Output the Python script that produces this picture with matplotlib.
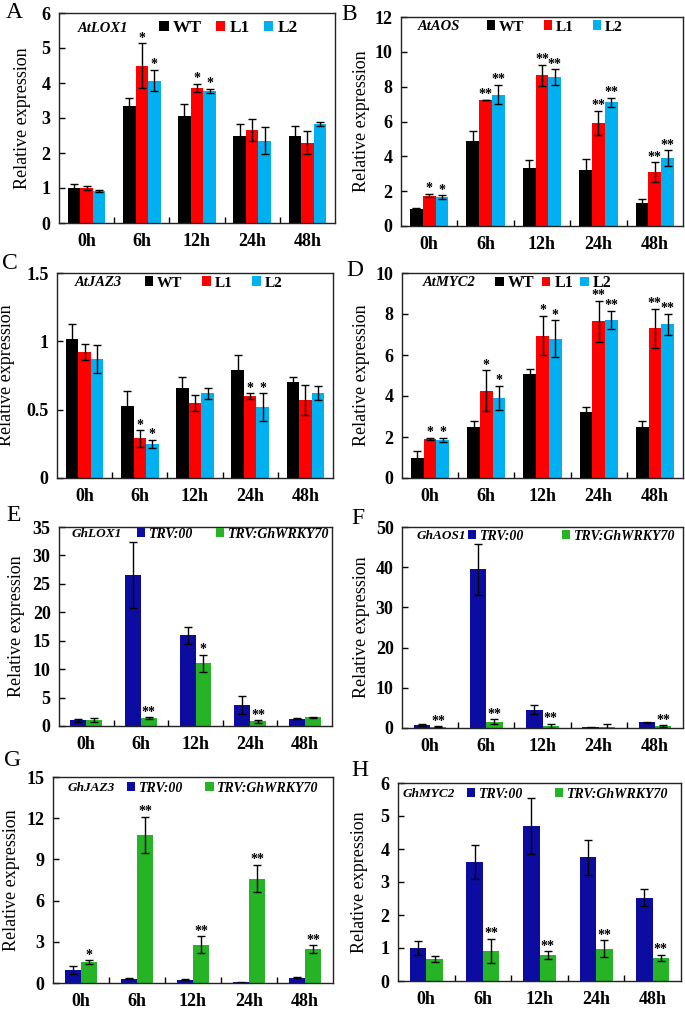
import matplotlib
matplotlib.use("Agg")
import matplotlib.pyplot as plt
from matplotlib.patches import Patch
from matplotlib.ticker import FuncFormatter, FixedLocator
import numpy as np

plt.rcParams['font.family'] = ['Liberation Serif', 'DejaVu Serif']

times = ["0h", "6h", "12h", "24h", "48h"]

# Panel A  AtLOX1
A_wt = [1.0, 3.33, 3.07, 2.5, 2.5]
A_l1 = [1.0, 4.5, 3.85, 2.65, 2.3]
A_l2 = [0.92, 4.07, 3.78, 2.35, 2.83]
A_wt_err = [0.12, 0.25, 0.32, 0.32, 0.28]
A_l1_err = [0.06, 0.63, 0.12, 0.32, 0.32]
A_l2_err = [0.03, 0.3, 0.06, 0.38, 0.05]
A_l1_sig = ["", "*", "*", "", ""]
A_l2_sig = ["", "*", "*", "", ""]

# Panel B  AtAOS
B_wt = [1.0, 4.9, 3.33, 3.2, 1.3]
B_l1 = [1.75, 7.25, 8.65, 5.9, 3.1]
B_l2 = [1.65, 7.55, 8.55, 7.1, 3.9]
B_wt_err = [0.03, 0.55, 0.45, 0.65, 0.25]
B_l1_err = [0.1, 0.0, 0.6, 0.7, 0.55]
B_l2_err = [0.12, 0.55, 0.45, 0.25, 0.45]
B_l1_sig = ["*", "**", "**", "**", "**"]
B_l2_sig = ["*", "**", "**", "**", "**"]

# Panel C  AtJAZ3
C_wt = [1.02, 0.53, 0.66, 0.79, 0.70]
C_l1 = [0.92, 0.29, 0.55, 0.60, 0.57]
C_l2 = [0.87, 0.25, 0.62, 0.52, 0.62]
C_wt_err = [0.11, 0.11, 0.08, 0.11, 0.04]
C_l1_err = [0.06, 0.06, 0.06, 0.02, 0.11]
C_l2_err = [0.10, 0.03, 0.04, 0.10, 0.05]
C_l1_sig = ["", "*", "", "*", ""]
C_l2_sig = ["", "*", "", "*", ""]

# Panel D  AtMYC2
D_wt = [1.0, 2.5, 5.05, 3.2, 2.5]
D_l1 = [1.9, 4.25, 6.95, 7.65, 7.3]
D_l2 = [1.85, 3.9, 6.8, 7.7, 7.5]
D_wt_err = [0.3, 0.3, 0.25, 0.25, 0.28]
D_l1_err = [0.05, 1.0, 0.95, 1.0, 0.95]
D_l2_err = [0.1, 0.6, 0.9, 0.45, 0.5]
D_l1_sig = ["*", "*", "*", "**", "**"]
D_l2_sig = ["*", "*", "*", "**", "**"]

# Panel E  GhLOX1
E_trv = [1.0, 26.5, 16.0, 3.7, 1.3]
E_wrky = [1.0, 1.35, 11.0, 0.8, 1.5]
E_trv_err = [0.3, 5.8, 1.5, 1.6, 0.1]
E_wrky_err = [0.35, 0.2, 1.5, 0.2, 0.1]
E_sig = ["", "**", "*", "**", ""]

# Panel F  GhAOS1
F_trv = [0.8, 39.5, 4.5, 0.2, 1.4]
F_wrky = [0.3, 1.6, 0.5, 0.3, 0.5]
F_trv_err = [0.2, 6.3, 1.1, 0.1, 0.2]
F_wrky_err = [0.1, 0.6, 0.6, 0.6, 0.2]
F_sig = ["**", "**", "**", "", "**"]

# Panel G  GhJAZ3
G_trv = [0.95, 0.3, 0.25, 0.05, 0.4]
G_wrky = [1.5, 10.8, 2.8, 7.6, 2.45]
G_trv_err = [0.3, 0.03, 0.05, 0.02, 0.05]
G_wrky_err = [0.15, 1.3, 0.6, 1.0, 0.3]
G_sig = ["*", "**", "**", "**", "**"]

# Panel H  GhMYC2
H_trv = [1.0, 3.6, 4.7, 3.75, 2.53]
H_wrky = [0.67, 0.92, 0.78, 0.98, 0.7]
H_trv_err = [0.22, 0.52, 0.85, 0.53, 0.27]
H_wrky_err = [0.1, 0.36, 0.12, 0.25, 0.1]
H_sig = ["", "**", "**", "**", "**"]

at_labels = ["WT", "L1", "L2"]
gh_labels = ["TRV:00", "TRV:GhWRKY70"]

C_BLACK = "#000000"
C_RED = "#FF0000"
C_LBLUE = "#00B0F0"
C_DBLUE = "#0C0CA0"
C_GREEN = "#26B426"

W, H = 685, 1010
fig = plt.figure(figsize=(W / 100, H / 100), dpi=100)


def make_ax(l, r, t, b):
    return fig.add_axes([l / W, 1 - b / H, (r - l) / W, (b - t) / H])


def style_ax(ax, ymax, ystep, lab_right_px, left_px, width_px):
    ax.set_xlim(-0.5, 4.5)
    ax.set_ylim(0, ymax)
    ax.set_yticks(np.arange(0, ymax + ystep / 2, ystep))
    ax.yaxis.set_major_formatter(FuncFormatter(lambda v, p: "%g" % v))
    ax.set_xticks(range(5))
    ax.set_xticklabels(times)
    ax.xaxis.set_minor_locator(FixedLocator([0.5, 1.5, 2.5, 3.5]))
    ax.tick_params(axis='x', which='major', length=0, pad=7, labelsize=13)
    ax.tick_params(axis='x', which='minor', length=4, direction='in', width=1)
    ax.tick_params(axis='y', which='major', length=4, direction='in', pad=6,
                   labelsize=13, width=1)
    for lab in ax.get_xticklabels() + ax.get_yticklabels():
        lab.set_fontweight('bold')
    for s in ax.spines.values():
        s.set_linewidth(1)
        s.set_color("#222222")
    ax.set_ylabel("Relative expression", fontsize=13)
    ax.yaxis.set_label_coords((lab_right_px - left_px) / width_px, 0.5)


def add_sig(ax, xs, tops, sigs):
    for x, t, s in zip(xs, tops, sigs):
        if s:
            ax.annotate(s, (x, t), xytext=(0, -1), textcoords='offset points',
                        ha='center', va='bottom', fontsize=10, fontweight='bold')


def add_gene_and_legend(ax, box, gene, gene_fs, gene_x, handles, labels,
                        leg_x, leg_y, leg_fs, hsize, colsp, italic):
    l, r, t, b = box
    yy = 1 - (leg_y - t) / (b - t)
    ax.text((gene_x - l) / (r - l), yy, gene, transform=ax.transAxes,
            ha='left', va='center', fontsize=gene_fs, fontweight='bold',
            style='italic')
    prop = dict(weight='bold', size=leg_fs)
    if italic:
        prop['style'] = 'italic'
    ax.legend(handles, labels, ncol=len(labels), frameon=False,
              loc='center left', bbox_to_anchor=((leg_x - l) / (r - l), yy),
              prop=prop, handlelength=hsize, handleheight=hsize,
              handletextpad=0.25, columnspacing=colsp, borderpad=0,
              borderaxespad=0)


def at_panel(box, wt, l1, l2, ewt, el1, el2, s1, s2, ymax, ystep, gene,
             letter, letter_xy, lab_right, gene_x, leg_x, leg_y, leg_fs,
             hsize, colsp):
    l, r, t, b = box
    ax = make_ax(l, r, t, b)
    x = np.arange(5)
    w = 0.227
    ekw = dict(elinewidth=1, capthick=1, ecolor='black')
    ax.bar(x - w, wt, w, yerr=ewt, color=C_BLACK, capsize=3, error_kw=ekw)
    ax.bar(x, l1, w, yerr=el1, color=C_RED, capsize=3, error_kw=ekw)
    ax.bar(x + w, l2, w, yerr=el2, color=C_LBLUE, capsize=3, error_kw=ekw)
    add_sig(ax, x, np.array(l1) + np.array(el1), s1)
    add_sig(ax, x + w, np.array(l2) + np.array(el2), s2)
    style_ax(ax, ymax, ystep, lab_right, l, r - l)
    handles = [Patch(facecolor=c) for c in (C_BLACK, C_RED, C_LBLUE)]
    add_gene_and_legend(ax, box, gene, 10.5, gene_x, handles, at_labels,
                        leg_x, leg_y, leg_fs, hsize, colsp, False)
    fig.text(letter_xy[0] / W, 1 - letter_xy[1] / H, letter, fontsize=17,
             ha='left', va='top')
    return ax


def gh_panel(box, trv, wr, etrv, ewr, sig, ymax, ystep, gene, letter,
             letter_xy, lab_right, gene_x, leg_x, leg_y, colsp):
    l, r, t, b = box
    ax = make_ax(l, r, t, b)
    x = np.arange(5)
    w = 0.29
    ekw = dict(elinewidth=1, capthick=1, ecolor='black')
    ax.bar(x - w / 2, trv, w, yerr=etrv, color=C_DBLUE, capsize=3, error_kw=ekw)
    ax.bar(x + w / 2, wr, w, yerr=ewr, color=C_GREEN, capsize=3, error_kw=ekw)
    add_sig(ax, x + w / 2, np.array(wr) + np.array(ewr), sig)
    style_ax(ax, ymax, ystep, lab_right, l, r - l)
    handles = [Patch(facecolor=c) for c in (C_DBLUE, C_GREEN)]
    add_gene_and_legend(ax, box, gene, 9.5, gene_x, handles, gh_labels,
                        leg_x, leg_y, 10, 0.6, colsp, True)
    fig.text(letter_xy[0] / W, 1 - letter_xy[1] / H, letter, fontsize=17,
             ha='left', va='top')
    return ax


at_panel((59, 335, 13, 223), A_wt, A_l1, A_l2, A_wt_err, A_l1_err, A_l2_err,
         A_l1_sig, A_l2_sig, 6, 1, "AtLOX1", "A", (6, 2), 31, 78, 159, 28,
         12.5, 0.55, 0.8)
at_panel((401, 683, 17, 226), B_wt, B_l1, B_l2, B_wt_err, B_l1_err, B_l2_err,
         B_l1_sig, B_l2_sig, 12, 2, "AtAOS", "B", (341, 4), 370, 418, 487, 27,
         11, 0.55, 1.25)
at_panel((57, 333, 273, 478), C_wt, C_l1, C_l2, C_wt_err, C_l1_err, C_l2_err,
         C_l1_sig, C_l2_sig, 1.5, 0.5, "AtJAZ3", "C", (2, 253), 15, 75, 145, 283,
         11, 0.55, 1.3)
at_panel((402, 683, 273, 478), D_wt, D_l1, D_l2, D_wt_err, D_l1_err, D_l2_err,
         D_l1_sig, D_l2_sig, 10, 2, "AtMYC2", "D", (346, 260), 370, 423, 495, 283,
         11.5, 0.55, 0.45)

gh_panel((59, 332, 527, 726), E_trv, E_wrky, E_trv_err, E_wrky_err, E_sig,
         35, 5, "GhLOX1", "E", (6, 505), 25, 72, 137, 534, 1.65)
gh_panel((402, 683, 527, 728), F_trv, F_wrky, F_trv_err, F_wrky_err, F_sig,
         50, 10, "GhAOS1", "F", (351, 508), 370, 417, 468, 536, 2.7)
gh_panel((53, 333, 777, 983), G_trv, G_wrky, G_trv_err, G_wrky_err, G_sig,
         15, 3, "GhJAZ3", "G", (4, 750), 20, 68, 127, 788, 1.6)
gh_panel((398, 681, 783, 981), H_trv, H_wrky, H_trv_err, H_wrky_err, H_sig,
         6, 1, "GhMYC2", "H", (351, 760), 368, 403, 467, 794, 2.3)

fig.savefig("out.png", dpi=100)
